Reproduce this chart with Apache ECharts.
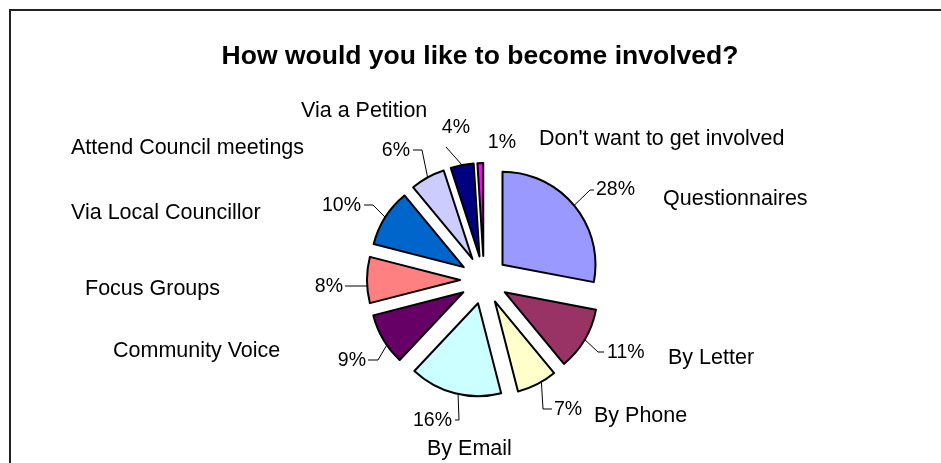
<!DOCTYPE html>
<html>
<head>
<meta charset="utf-8">
<script src="https://cdn.jsdelivr.net/npm/echarts@6/dist/echarts.min.js"></script>
<style>
  html, body { margin: 0; padding: 0; background: #fff; }
  #chart { width: 941px; height: 463px; }
</style>
</head>
<body>
<div id="chart"></div>
<script>
// Survey answers, clockwise from 12 o'clock
const categories = [
  'Questionnaires', 'By Letter', 'By Phone', 'By Email', 'Community Voice',
  'Focus Groups', 'Via Local Councillor', 'Attend Council meetings',
  'Via a Petition', "Don't want to get involved"
];
const shares = [28, 11, 7, 16, 9, 8, 10, 6, 4, 1];
const sliceColors = [
  '#9999FF', '#993366', '#FFFFCC', '#CCFFFF', '#660066',
  '#FF8080', '#0066CC', '#CCCCFF', '#000080', '#FF00FF'
];
const chartTitle = 'How would you like to become involved?';

// Layout: where each category caption sits (left edge, vertical middle)
const captionPos = [
  [663, 199], [668, 358], [594, 416], [427, 449], [113, 351],
  [85, 289], [71, 213], [71, 148], [301, 111], [539, 139]
];

// Layout for the percentage labels:
//   edge  - x of the text edge nearest the pie, and vertical middle
//   bend  - leader-line points after it leaves the slice
//   tilt  - angular shift (degrees) of where the leader leaves the arc
const labelSpots = [
  { edge: [596, 190], bend: [[590, 190], [594, 190]], tilt: 0 },
  { edge: [607, 353], bend: [[598, 352], [604, 352]], tilt: 0 },
  { edge: [554, 410], bend: [[543, 409], [552, 409]], tilt: -3 },
  { edge: [452, 421], bend: [[459, 420], [455, 420]], tilt: -2 },
  { edge: [366, 361], bend: [[378, 360], [368, 360]], tilt: -4 },
  { edge: [343, 287], bend: [[356, 286], [345, 286]], tilt: -3.7 },
  { edge: [361, 206], bend: [[373, 205], [364, 205]], tilt: 0 },
  { edge: [410, 151], bend: [[422, 150], [413, 150]], tilt: 0 },
  { edge: [470, 128], bend: [[446, 147], [446, 147]], tilt: 0 },
  { edge: [516, 143], bend: null, tilt: 0 }
];

const PIE_CENTER = [484, 280];
const PIE_RADIUS = 93;
const EXPLODE = 24;
const FONT = '"Liberation Sans", Arial, Helvetica, sans-serif';

const total = shares.reduce((a, b) => a + b, 0);
const toRad = Math.PI / 180;

// Middle angle of a slice, clockwise degrees from 12 o'clock
function midAngle(i) {
  let before = 0;
  for (let k = 0; k < i; k++) before += shares[k];
  return (before + shares[i] / 2) / total * 360;
}
function direction(deg) {
  return [Math.sin(deg * toRad), -Math.cos(deg * toRad)];
}

// Leader line in the slice's own (not exploded) frame; the exploded
// offset is added back by the selected state of the pie.
function leaderPoints(i) {
  const s = labelSpots[i];
  const u = direction(midAngle(i));
  const a = direction(midAngle(i) + s.tilt);
  const start = [PIE_CENTER[0] + PIE_RADIUS * a[0], PIE_CENTER[1] + PIE_RADIUS * a[1]];
  const rest = s.bend.map(p => [p[0] - EXPLODE * u[0], p[1] - EXPLODE * u[1]]);
  return [start].concat(rest);
}

// Label options that move the text from the pie's default anchor
// (outer arc of the exploded slice, zero-length leader) to its spot:
// side padding shifts it across, an empty extra line shifts it up or down.
function labelPlacement(i) {
  const s = labelSpots[i];
  const u = direction(midAngle(i));
  const px = PIE_CENTER[0] + (EXPLODE + PIE_RADIUS) * u[0];
  const py = PIE_CENTER[1] + (EXPLODE + PIE_RADIUS) * u[1];
  const dy = s.edge[1] - py;
  const opt = {
    padding: u[0] < 0 ? [0, px - s.edge[0], 0, 0] : [0, 0, 0, s.edge[0] - px]
  };
  if (Math.abs(dy) >= 0.5) {
    opt.lineHeight = 2 * Math.abs(dy);
    opt.formatter = dy > 0 ? '\n{c}%' : '{c}%\n';
  }
  return opt;
}

const chart = echarts.init(document.getElementById('chart'), null, { renderer: 'canvas' });

const captions = categories.map((name, i) => ({
  type: 'text',
  x: captionPos[i][0],
  y: captionPos[i][1],
  silent: true,
  style: {
    text: name,
    fill: '#000',
    font: '21.5px ' + FONT,
    textAlign: 'left',
    textVerticalAlign: 'middle'
  }
}));

chart.setOption({
  animation: false,
  backgroundColor: '#fff',
  graphic: [
    {
      type: 'rect',
      shape: { x: 10, y: 10, width: 1200, height: 900 },
      silent: true,
      style: { fill: 'none', stroke: '#222', lineWidth: 2 }
    },
    {
      type: 'text',
      x: 480,
      y: 57,
      silent: true,
      style: {
        text: chartTitle,
        fill: '#000',
        font: 'bold 26.5px ' + FONT,
        textAlign: 'center',
        textVerticalAlign: 'middle'
      }
    }
  ].concat(captions),
  series: [{
    type: 'pie',
    center: PIE_CENTER,
    radius: PIE_RADIUS,
    startAngle: 90,
    clockwise: true,
    selectedMode: 'multiple',
    selectedOffset: EXPLODE,
    avoidLabelOverlap: false,
    data: categories.map((name, i) => ({
      name: name,
      value: shares[i],
      selected: true,
      itemStyle: { color: sliceColors[i] },
      label: labelPlacement(i),
      labelLine: { show: labelSpots[i].bend !== null }
    })),
    itemStyle: { borderColor: '#000', borderWidth: 2 },
    select: { itemStyle: { borderColor: '#000', borderWidth: 2 } },
    emphasis: { disabled: true },
    label: {
      show: true,
      position: 'outside',
      formatter: '{c}%',
      color: '#000',
      fontFamily: FONT,
      fontSize: 19.5,
      distanceToLabelLine: 0
    },
    labelLine: {
      show: true,
      length: 0,
      length2: 0,
      lineStyle: { color: '#000', width: 1 }
    },
    labelLayout: function (p) {
      const out = { hideOverlap: false, moveOverlap: false };
      if (labelSpots[p.dataIndex].bend) {
        out.labelLinePoints = leaderPoints(p.dataIndex);
      }
      return out;
    }
  }]
});
</script>
</body>
</html>
